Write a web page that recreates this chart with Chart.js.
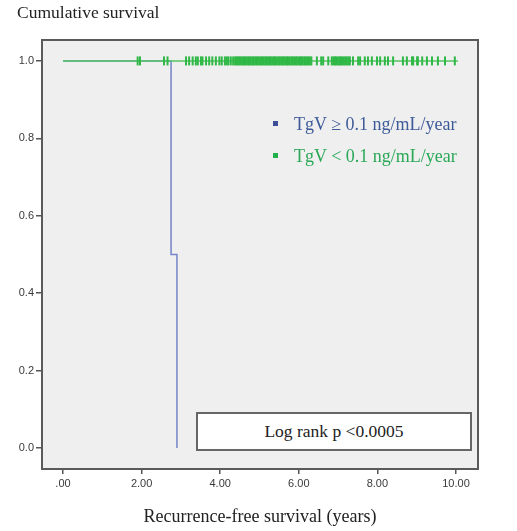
<!DOCTYPE html>
<html>
<head>
<meta charset="utf-8">
<script src="https://cdn.jsdelivr.net/npm/chart.js@4"></script>
<style>
  body { margin: 0; background: #fff; }
  #wrap { position: relative; width: 517px; height: 531px; }
  #yTitle { position: absolute; left: 17px; top: 2px; font: 17.5px "Liberation Serif", serif; color: #222; }
  .leg { position: absolute; left: 273px; font: 18px "Liberation Serif", serif; white-space: nowrap; }
  .leg i { display: inline-block; width: 5px; height: 5px; margin-right: 16px; vertical-align: middle; position: relative; top: -2px; }
  #logrank { position: absolute; left: 196px; top: 412px; width: 272px; height: 35px; background: #fff; border: 2px solid #666;
    font: 17.5px "Liberation Serif", serif; color: #222; text-align: center; line-height: 35px; }
</style>
</head>
<body>
<div id="wrap">
  <canvas id="km" width="517" height="531"></canvas>
  <div id="yTitle">Cumulative survival</div>
  <div class="leg" style="top:114px;color:#3d5a99"><i style="background:#3d4f96"></i>TgV ≥ 0.1 ng/mL/year</div>
  <div class="leg" style="top:146px;color:#2aa857"><i style="background:#22b04a"></i>TgV &lt; 0.1 ng/mL/year</div>
  <div id="logrank">Log rank p &lt;0.0005</div>
</div>
<script>
// Kaplan-Meier curves
const highTimes = [0, 2.75, 2.90];
const highSurv = [1, 0.5, 0];
const lowTimes = [0, 10.05];
const lowSurv = [1, 1];

// censored observations, TgV < 0.1 group (all at survival 1.0)
const lowCensored = [
  1.90, 1.96, 2.57, 2.66, 3.13, 3.21, 3.30, 3.38, 3.43, 3.51, 3.55, 3.64, 3.72, 3.80, 3.89, 3.98,
  4.04, 4.12, 4.17, 4.21, 4.27, 4.33,
  4.38, 4.42, 4.45, 4.49, 4.52, 4.56, 4.60, 4.63, 4.67, 4.71, 4.74, 4.78, 4.82, 4.85, 4.89, 4.93,
  4.96, 5.00, 5.04, 5.07, 5.11, 5.15, 5.18, 5.22, 5.26, 5.29, 5.33, 5.37, 5.40, 5.44, 5.48, 5.51,
  5.55, 5.59, 5.62, 5.66, 5.70, 5.73, 5.77, 5.81, 5.84, 5.88, 5.92, 5.95, 5.99, 6.03, 6.06, 6.10,
  6.14, 6.17, 6.21, 6.25, 6.28, 6.32,
  6.46, 6.57, 6.62, 6.75,
  6.84, 6.88, 6.92, 6.95, 6.99, 7.03, 7.06, 7.10, 7.14, 7.18, 7.22, 7.26, 7.30,
  7.38, 7.51, 7.56, 7.68, 7.76, 7.86, 7.99, 8.07, 8.19, 8.27, 8.40, 8.65, 8.75, 8.88, 8.91,
  9.01, 9.03, 9.14, 9.26, 9.39, 9.54, 9.72, 9.97
];

const xTicks = [0, 2, 4, 6, 8, 10];
const yTicks = [0, 0.2, 0.4, 0.6, 0.8, 1.0];

// plot background and frame
const framePlugin = {
  id: 'frame',
  beforeDraw(chart) {
    const { ctx, chartArea: a } = chart;
    ctx.save();
    ctx.fillStyle = '#efefef';
    ctx.fillRect(a.left, a.top, a.right - a.left, a.bottom - a.top);
    ctx.restore();
  },
  afterDraw(chart) {
    const { ctx, chartArea: a } = chart;
    ctx.save();
    ctx.strokeStyle = '#5a5a5a';
    ctx.lineWidth = 2;
    ctx.strokeRect(a.left, a.top, a.right - a.left, a.bottom - a.top);
    ctx.restore();
  }
};

const tickFont = { family: '"Liberation Sans", Arial, sans-serif', size: 11 };

new Chart(document.getElementById('km'), {
  type: 'scatter',
  data: {
    datasets: [{
      label: 'TgV < 0.1 censored',
      data: lowCensored.map(t => ({ x: t, y: 1 })),
      showLine: false,
      pointStyle: 'line',
      rotation: 90,
      pointRadius: 4.5,
      pointBorderWidth: 2,
      borderColor: '#2fb845',
      order: 0
    }, {
      label: 'TgV < 0.1 ng/mL/year',
      data: lowTimes.map((t, i) => ({ x: t, y: lowSurv[i] })),
      showLine: true,
      stepped: true,
      borderColor: '#55c663',
      borderWidth: 1.5,
      pointRadius: 0,
      order: 1
    }, {
      label: 'TgV ≥ 0.1 ng/mL/year',
      data: highTimes.map((t, i) => ({ x: t, y: highSurv[i] })),
      showLine: true,
      stepped: true,
      borderColor: '#7585c9',
      borderWidth: 1.5,
      pointRadius: 0,
      order: 2
    }]
  },
  options: {
    responsive: false,
    devicePixelRatio: 1,
    animation: false,
    layout: { padding: { top: 40, right: 39, left: 0, bottom: 0 } },
    plugins: { legend: { display: false }, tooltip: { enabled: false } },
    scales: {
      x: {
        type: 'linear',
        min: -0.534,
        max: 10.56,
        afterBuildTicks: s => { s.ticks = xTicks.map(v => ({ value: v })); },
        afterFit: s => { s.height = 62; },
        border: { display: false },
        grid: { drawOnChartArea: false, drawTicks: true, tickLength: 5, color: '#555', lineWidth: 1.5 },
        ticks: {
          color: '#3a3a3a', font: tickFont, padding: 3, maxRotation: 0,
          callback: v => v === 0 ? '.00' : v.toFixed(2)
        },
        title: {
          display: true,
          text: 'Recurrence-free survival (years)',
          color: '#222',
          font: { family: '"Liberation Serif", serif', size: 18 },
          padding: { top: 0, bottom: 3 }
        }
      },
      y: {
        type: 'linear',
        min: -0.054,
        max: 1.054,
        afterBuildTicks: s => { s.ticks = yTicks.map(v => ({ value: v })); },
        afterFit: s => { s.width = 42; },
        border: { display: false },
        grid: { drawOnChartArea: false, drawTicks: true, tickLength: 6, color: '#555', lineWidth: 1.5 },
        ticks: { color: '#3a3a3a', font: tickFont, padding: 2, callback: v => v.toFixed(1) }
      }
    }
  },
  plugins: [framePlugin]
});
</script>
</body>
</html>
